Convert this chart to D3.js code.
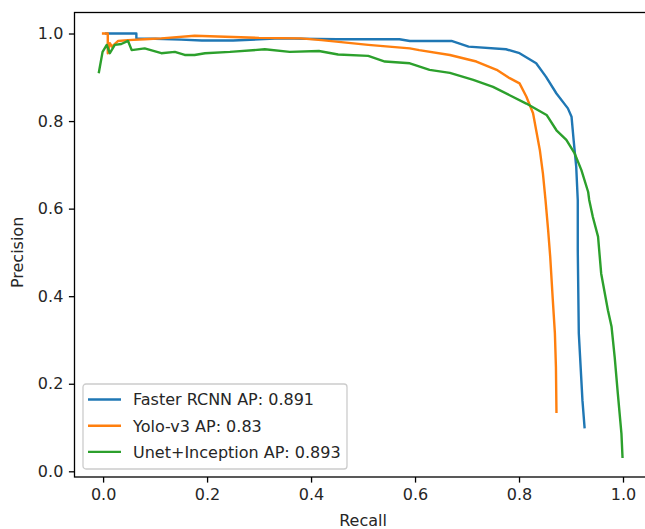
<!DOCTYPE html>
<html>
<head>
<meta charset="utf-8">
<script src="https://cdn.jsdelivr.net/npm/d3@7"></script>
<style>
  body { margin: 0; background: #fff; }
  svg text { font-family: "DejaVu Sans", sans-serif; }
</style>
</head>
<body>
<div id="canvas"></div>
<script>
// [recall, precision]
const fasterRcnn = [
  [0.006, 1.0], [0.064, 1.0], [0.064, 0.989], [0.1, 0.988], [0.15, 0.986], [0.19, 0.984],
  [0.25, 0.984], [0.34, 0.989], [0.45, 0.987], [0.57, 0.987], [0.59, 0.983], [0.67, 0.983],
  [0.703, 0.97], [0.775, 0.964], [0.801, 0.955], [0.833, 0.932], [0.852, 0.901],
  [0.872, 0.863], [0.894, 0.829], [0.901, 0.81], [0.905, 0.757], [0.910, 0.696],
  [0.913, 0.619], [0.913, 0.505], [0.915, 0.315], [0.922, 0.162], [0.926, 0.101]
];
const yolo = [
  [0.0, 1.0], [0.009, 1.0], [0.009, 0.955], [0.013, 0.978], [0.017, 0.97], [0.029, 0.983],
  [0.048, 0.985], [0.08, 0.987], [0.112, 0.989], [0.176, 0.995], [0.25, 0.992],
  [0.3, 0.99], [0.38, 0.989], [0.42, 0.985], [0.51, 0.974], [0.59, 0.966],
  [0.608, 0.962], [0.667, 0.951], [0.718, 0.936], [0.757, 0.917],
  [0.782, 0.898], [0.801, 0.886], [0.814, 0.856], [0.827, 0.818], [0.833, 0.779],
  [0.840, 0.734], [0.846, 0.68], [0.851, 0.619], [0.856, 0.551], [0.860, 0.49],
  [0.865, 0.391], [0.869, 0.315], [0.871, 0.238], [0.872, 0.136]
];
const unetInception = [
  [-0.008, 0.912], [-0.001, 0.958], [0.007, 0.974], [0.013, 0.955], [0.0225, 0.974],
  [0.035, 0.976], [0.048, 0.983], [0.055, 0.962], [0.08, 0.966], [0.112, 0.955],
  [0.138, 0.958], [0.157, 0.951], [0.176, 0.951], [0.196, 0.955], [0.244, 0.958],
  [0.311, 0.964], [0.359, 0.958], [0.415, 0.96], [0.452, 0.952], [0.51, 0.949],
  [0.542, 0.936], [0.59, 0.932], [0.628, 0.917], [0.667, 0.91], [0.712, 0.894],
  [0.750, 0.878], [0.782, 0.859], [0.814, 0.84], [0.853, 0.814], [0.872, 0.779],
  [0.891, 0.757], [0.907, 0.726], [0.920, 0.688], [0.933, 0.638], [0.935, 0.62],
  [0.942, 0.581], [0.952, 0.536], [0.958, 0.452], [0.971, 0.368], [0.978, 0.33],
  [0.984, 0.261], [0.990, 0.178], [0.997, 0.086], [0.999, 0.033]
];
const seriesNames = ["Faster RCNN AP: 0.891", "Yolo-v3 AP: 0.83", "Unet+Inception AP: 0.893"];
const seriesData = [fasterRcnn, yolo, unetInception];
const colors = ["#1f77b4", "#ff7f0e", "#2ca02c"];
const tickValues = [0, 0.2, 0.4, 0.6, 0.8, 1.0];

const width = 645;
const height = 529;
const margin = { top: 12.5, left: 74.5, bottom: 52, right: -4 };
const iwidth = width - margin.left - margin.right;
const iheight = height - margin.top - margin.bottom;

const svg = d3.select("#canvas").append("svg")
  .attr("width", width)
  .attr("height", height);

const x = d3.scaleLinear().domain([-0.055, 1.05]).range([0, iwidth]);
const y = d3.scaleLinear().domain([-0.013, 1.048]).range([iheight, 0]);

const g = svg.append("g")
  .attr("transform", `translate(${margin.left}, ${margin.top})`);

g.append("clipPath").attr("id", "clip")
  .append("rect").attr("width", iwidth).attr("height", iheight);

const line = d3.line().x(d => x(d[0])).y(d => y(d[1]));

g.append("g").attr("clip-path", "url(#clip)")
  .selectAll("path").data(seriesData).enter()
  .append("path")
  .attr("d", line)
  .attr("fill", "none")
  .attr("stroke", (d, i) => colors[i])
  .attr("stroke-width", 2.4)
  .attr("stroke-linejoin", "round")
  .attr("stroke-linecap", "square");

// axes
const fmt = d3.format(".1f");
const xAxis = g.append("g")
  .attr("transform", `translate(0, ${iheight})`)
  .call(d3.axisBottom(x).tickValues(tickValues).tickFormat(fmt).tickSize(5.6).tickPadding(5.6));
const yAxis = g.append("g")
  .call(d3.axisLeft(y).tickValues(tickValues).tickFormat(fmt).tickSize(5.6).tickPadding(5.6));

[xAxis, yAxis].forEach(a => {
  a.select(".domain").remove();
  a.selectAll("line").attr("stroke", "#000").attr("stroke-width", 1.3);
  a.selectAll("text").attr("font-size", 16).attr("fill", "#262626")
    .style("font-family", "DejaVu Sans, sans-serif");
});

// frame
g.append("rect")
  .attr("width", iwidth).attr("height", iheight)
  .attr("fill", "none").attr("stroke", "#000").attr("stroke-width", 1.3);

// axis labels
svg.append("text")
  .attr("x", margin.left + x(0.5)).attr("y", 526)
  .attr("text-anchor", "middle").attr("font-size", 16).attr("fill", "#262626")
  .text("Recall");
svg.append("text")
  .attr("transform", `translate(23, ${margin.top + y(0.5)}) rotate(-90)`)
  .attr("text-anchor", "middle").attr("font-size", 16).attr("fill", "#262626")
  .text("Precision");

// legend
const legend = svg.append("g").attr("transform", "translate(83, 384)");
legend.append("rect")
  .attr("width", 264).attr("height", 85).attr("rx", 3)
  .attr("fill", "#fff").attr("fill-opacity", 0.8)
  .attr("stroke", "#ccc").attr("stroke-width", 1.3);
const items = legend.selectAll(".item").data(seriesNames).enter()
  .append("g")
  .attr("transform", (d, i) => `translate(0, ${15.5 + i * 26.2})`);
items.append("line")
  .attr("x1", 5).attr("x2", 38)
  .attr("stroke", (d, i) => colors[i]).attr("stroke-width", 2.4);
items.append("text")
  .attr("x", 50).attr("y", 5.8)
  .attr("font-size", 16).attr("fill", "#262626")
  .text(d => d);
</script>
</body>
</html>
